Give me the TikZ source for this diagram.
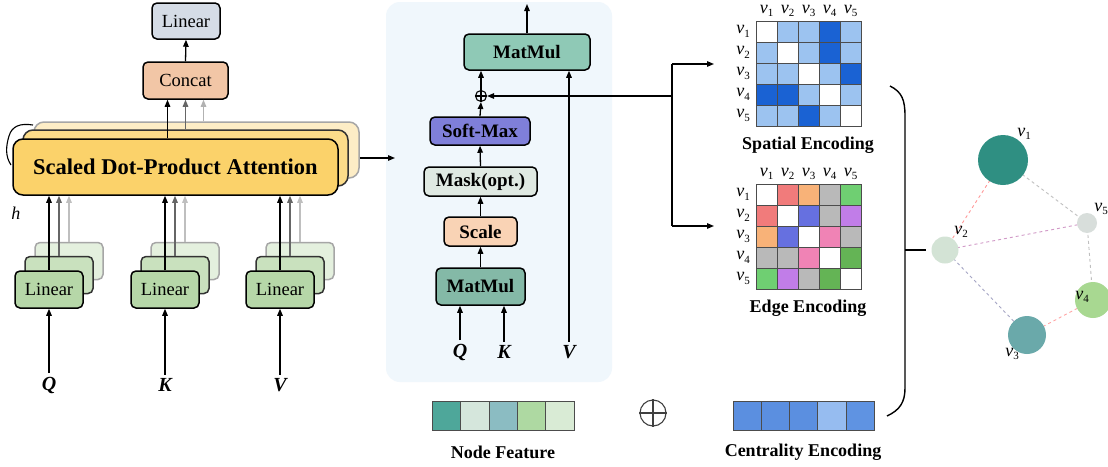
\documentclass[tikz,border=0pt]{standalone}
\usepackage{fontspec}
\setmainfont{Liberation Serif}
\usetikzlibrary{arrows.meta,calc}

\definecolor{panelbg}{HTML}{F0F7FC}
\definecolor{linblue}{HTML}{D5DCE6}
\definecolor{concatc}{HTML}{F2C6A6}
\definecolor{sdpa1}{HTML}{FBD26A}
\definecolor{sdpa2}{HTML}{FCDC8A}
\definecolor{sdpa3}{HTML}{FDEDC6}
\definecolor{lin1}{HTML}{B6D7A8}
\definecolor{lin2}{HTML}{C9E1BE}
\definecolor{lin3}{HTML}{E4F0DE}
\definecolor{matmulc}{HTML}{8FC9B6}
\definecolor{softmaxc}{HTML}{7F7FD9}
\definecolor{maskc}{HTML}{DFE9E2}
\definecolor{scalec}{HTML}{F9D3B5}
% spatial encoding shades
\definecolor{sw}{HTML}{FFFFFF}
\definecolor{sl}{HTML}{9CC3F0}
\definecolor{sd}{HTML}{1A62D3}
% edge encoding shades
\definecolor{ew}{HTML}{FFFFFF}
\definecolor{er}{HTML}{F17B7B}
\definecolor{eo}{HTML}{F8B278}
\definecolor{eg}{HTML}{B9B9B9}
\definecolor{el}{HTML}{6FCF72}
\definecolor{eb}{HTML}{6670E0}
\definecolor{ep}{HTML}{C17DE8}
\definecolor{ek}{HTML}{F083B5}
\definecolor{ed}{HTML}{64B455}
% graph nodes
\definecolor{gv1}{HTML}{2F8F82}
\definecolor{gv2}{HTML}{D3E3D5}
\definecolor{gv3}{HTML}{6AA9AA}
\definecolor{gv4}{HTML}{A8D891}
\definecolor{gv5}{HTML}{D8DEDB}

\newcommand{\vlab}[1]{\textit{v}\raisebox{-3.5pt}{\fontsize{11}{11}\selectfont #1}}

\begin{document}
\begin{tikzpicture}[x=1pt,y=-1pt,
  arr/.style={-{Triangle[length=7pt,width=5.5pt]}, line width=1.3pt},
  box/.style={draw, line width=1.5pt, rounded corners=5pt, inner sep=0pt, align=center},
  bf/.style={font=\fontsize{19}{21}\selectfont\bfseries},
  rm/.style={font=\fontsize{18.5}{20}\selectfont},
  inlab/.style={font=\fontsize{20}{21}\selectfont\bfseries\itshape},
  caption/.style={font=\fontsize{18}{20}\selectfont\bfseries},
  vl/.style={font=\fontsize{18}{18}\selectfont, inner sep=0pt},
  cell/.style={draw=black!70, line width=0.5pt},
  gedge/.style={dashed, line width=0.9pt}]

\fill[white] (0,0) rectangle (1108,466);
\useasboundingbox (0,0) rectangle (1108,466);

% ---------- multi-head attention ----------
\node[box, fill=linblue, rm, minimum width=68, minimum height=36] (lout) at (186,21) {Linear};
\node[box, fill=concatc, rm, minimum width=85, minimum height=37] (concat) at (185.5,80.5) {Concat};

\node[box, draw=black!35, fill=sdpa3, rounded corners=10pt, minimum width=325, minimum height=56] (sdpa3) at (196.5,150) {};
\node[box, draw=black!80, fill=sdpa2, rounded corners=10pt, minimum width=325, minimum height=56] (sdpa2) at (185.5,158) {};
\node[box, fill=sdpa1, rounded corners=10pt, font=\fontsize{22.5}{24}\selectfont\bfseries, minimum width=325, minimum height=56] (sdpa) at (175.5,167) {Scaled Dot-Product Attention};

\coordinate (c1) at ($(concat.south)+(-18,0)$);
\coordinate (c2) at (concat.south);
\coordinate (c3) at ($(concat.south)+(18,0)$);
\draw[arr] (c1 |- sdpa.north) -- (c1);
\draw[arr, draw=black!60] (c2 |- sdpa2.north) -- (c2);
\draw[arr, draw=black!30] (c3 |- sdpa3.north) -- (c3);
\draw[arr] (concat.north) -- (lout.south);

% heads brace and label
\draw[line width=1.1pt] (33,125) .. controls (20,123) and (12,126) .. (9,136)
  .. controls (6,146) and (5,156) .. (11,165);
\node[font=\fontsize{18}{20}\selectfont\itshape, inner sep=0pt] (hlab) at (16,213) {h};

% linear projections
\foreach \n/\cx/\lab in {q/49/Q, k/165/K, v/280/V}{
  \node[box, draw=black!35, fill=lin3, minimum width=68, minimum height=37] (l\n3) at (\cx+20,261) {};
  \node[box, draw=black!80, fill=lin2, minimum width=68, minimum height=37] (l\n2) at (\cx+10,275) {};
  \node[box, fill=lin1, rm, minimum width=68, minimum height=37] (l\n1) at (\cx,289.5) {Linear};
  \node[inlab] (in\n) at (\cx,385) {\lab};
  \draw[arr] (in\n.north) -- (l\n1.south);
  \draw[arr] (l\n1.north) -- (l\n1.north |- sdpa.south);
  \draw[arr, draw=black!60] (l\n2.north) -- (l\n2.north |- sdpa.south);
  \draw[arr, draw=black!25] (l\n3.north) -- (l\n3.north |- sdpa.south);
}

% ---------- scaled dot-product attention detail ----------
\fill[panelbg, rounded corners=14pt] (386,2) rectangle (612,382);

\coordinate (mid) at (395,158);
\draw[arr] ($(sdpa3.east)+(0,8)$) -- (mid);

\node[box, fill=matmulc, bf, minimum width=126, minimum height=36] (mm2) at (527,52) {MatMul};
\node[draw, circle, line width=1.1pt, minimum size=11pt, inner sep=0pt] (addsm) at (481,96) {};
\draw[line width=1.1pt] (addsm.north) -- (addsm.south) (addsm.west) -- (addsm.east);
\node[box, fill=softmaxc, bf, minimum width=100, minimum height=28] (softmax) at (480,131) {Soft-Max};
\node[box, fill=maskc, bf, minimum width=113, minimum height=29] (mask) at (480.5,181.5) {Mask(opt.)};
\node[box, fill=scalec, bf, minimum width=73, minimum height=29] (scale) at (480.5,231.5) {Scale};
\node[box, fill=matmulc!92!black, bf, minimum width=89, minimum height=37] (mm1) at (480.5,286.5) {MatMul};

\node[inlab] (dq) at (460,352) {Q};
\node[inlab] (dk) at (504,352) {K};
\node[inlab] (dv) at (569,352) {V};

\coordinate (outtop) at (527,4);
\draw[arr] (mm2.north) -- (outtop);
\draw[arr] (dq.north) -- (dq.north |- mm1.south);
\draw[arr] (dk.north) -- (dk.north |- mm1.south);
\draw[arr] (dv.north) -- (dv.north |- mm2.south);
\draw[arr] (mm1.north) -- (scale.south);
\draw[arr] (scale.north) -- (mask.south);
\draw[arr] (mask.north) -- (softmax.south);
\draw[arr] (softmax.north) -- (addsm.south);
\draw[arr] (addsm.north) -- (addsm.north |- mm2.south);

% bias path from the encodings
\coordinate (junc) at (672,96);
\coordinate (jtop) at (672,64);
\coordinate (jbot) at (672,226);
\coordinate (toSpatial) at (714,64);
\coordinate (toEdge) at (714,226);
\draw[line width=1.3pt] (jtop) -- (jbot);
\draw[arr] (junc) -- (addsm.east);
\draw[arr] (jtop) -- (toSpatial);
\draw[arr] (jbot) -- (toEdge);

% ---------- spatial encoding ----------
\foreach \r/\row in {1/{sw,sl,sl,sd,sl}, 2/{sl,sw,sl,sd,sl}, 3/{sl,sl,sw,sl,sd},
                     4/{sd,sd,sl,sw,sl}, 5/{sl,sl,sd,sl,sw}}{
  \foreach \c [count=\j] in \row {
    \filldraw[cell, fill=\c] (756+21*\j-21, 21+21*\r-21) rectangle ++(21,21);
  }
}
\foreach \j in {1,...,5}{
  \node[vl] at (756+21*\j-10.5, 11) {\vlab{\j}};
  \node[vl] at (743, 21+21*\j-10.5) {\vlab{\j}};
}
\node[caption] (spcap) at (808,145) {Spatial Encoding};

% ---------- edge encoding ----------
\foreach \r/\row in {1/{ew,er,eo,eg,el}, 2/{er,ew,eb,eg,ep}, 3/{eo,eb,ew,ek,eg},
                     4/{eg,eg,ek,ew,ed}, 5/{el,ep,eg,ed,ew}}{
  \foreach \c [count=\j] in \row {
    \filldraw[cell, fill=\c] (756+21*\j-21, 184+21*\r-21) rectangle ++(21,21);
  }
}
\foreach \j in {1,...,5}{
  \node[vl] at (756+21*\j-10.5, 174) {\vlab{\j}};
  \node[vl] at (743, 184+21*\j-10.5) {\vlab{\j}};
}
\node[caption] (edcap) at (808,308) {Edge Encoding};

% ---------- node feature and centrality ----------
\foreach \c [count=\j] in {4EA79A, D5E6DC, 8BBCC2, AED9A2, D9EBD5}{
  \definecolor{tmpc}{HTML}{\c}
  \filldraw[cell, fill=tmpc] (432+28.4*\j-28.4, 401) rectangle ++(28.4,29);
}
\node[caption] (nfcap) at (503,452) {Node Feature};

\node[draw=black!75, circle, line width=1.1pt, minimum size=26pt, inner sep=0pt] (addbig) at (653,413) {};
\draw[black!75, line width=1.1pt] (addbig.north) -- (addbig.south) (addbig.west) -- (addbig.east);

\foreach \c [count=\j] in {5B8FE0, 5B8FE0, 5B8FE0, 96BCF0, 5F93E2}{
  \definecolor{tmpc}{HTML}{\c}
  \filldraw[cell, fill=tmpc] (733+28.2*\j-28.2, 401) rectangle ++(28.2,29);
}
\node[caption] (cecap) at (803,452) {Centrality Encoding};

% ---------- grouping brace ----------
\draw[line width=1.4pt] (890,86) .. controls (902,92) and (905,100) .. (905,116)
  -- (905,388) .. controls (905,402) and (900,410) .. (887,416);
\coordinate (bracetip) at (926,250);
\draw[line width=1.4pt] (905,250) -- (bracetip);

% ---------- example graph ----------
\coordinate (p1) at (1003,160);
\coordinate (p2) at (945,250);
\coordinate (p3) at (1027,335);
\coordinate (p4) at (1093,300);
\coordinate (p5) at (1087,223);
\draw[gedge, red!40] (p1) -- (p2);
\draw[gedge, black!25] (p1) -- (p5);
\draw[gedge, blue!45!red!40] (p2) -- (p5);
\draw[gedge, blue!35!black!35] (p2) -- (p3);
\draw[gedge, red!35] (p3) -- (p4);
\draw[gedge, black!25] (p5) -- (p4);
\node[circle, fill=gv1, minimum size=50pt, inner sep=0pt] (g1) at (p1) {};
\node[circle, fill=gv2, minimum size=27pt, inner sep=0pt] (g2) at (p2) {};
\node[circle, fill=gv3, minimum size=38pt, inner sep=0pt] (g3) at (p3) {};
\node[circle, fill=gv4, minimum size=36pt, inner sep=0pt] (g4) at (p4) {};
\node[circle, fill=gv5, minimum size=20pt, inner sep=0pt] (g5) at (p5) {};
\node[vl] (t1) at (1024,134) {\vlab{1}};
\node[vl] (t2) at (961,232) {\vlab{2}};
\node[vl] (t3) at (1012,354) {\vlab{3}};
\node[vl] (t4) at (1082,297) {\vlab{4}};
\node[vl] (t5) at (1101,209) {\vlab{5}};
\end{tikzpicture}
\end{document}
